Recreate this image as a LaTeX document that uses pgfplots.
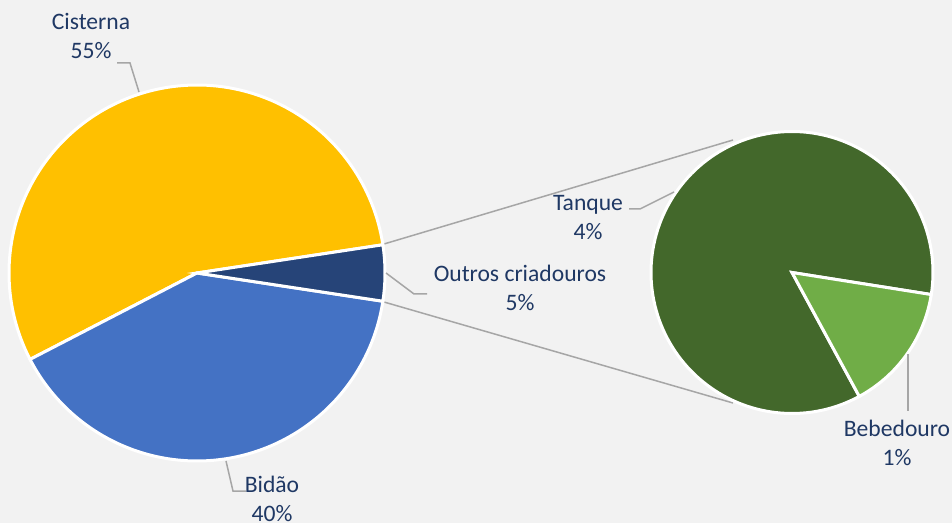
\documentclass[border=0pt]{standalone}
\usepackage{pgfplots}
\pgfplotsset{compat=1.18}
\usepackage{fontspec}
\setmainfont{Carlito}
\definecolor{bg}{HTML}{F2F2F2}
\definecolor{cCis}{HTML}{FFC000}
\definecolor{cBid}{HTML}{4472C4}
\definecolor{cOut}{HTML}{264478}
\definecolor{cTan}{HTML}{43682B}
\definecolor{cBeb}{HTML}{70AD47}
\definecolor{txt}{HTML}{1F3864}
\definecolor{lead}{HTML}{A6A6A6}
% data (percent)
\def\vCis{55.2}
\def\vBid{40.0}
\def\vOut{4.8}
\def\vTan{4.1}
\def\vBeb{0.7}
\begin{document}
\begin{tikzpicture}
\pgfmathsetmacro\aOs{-1.8*\vOut}
\pgfmathsetmacro\aOe{1.8*\vOut}
\pgfmathsetmacro\aCe{\aOe+3.6*\vCis}
\pgfmathsetmacro\aBe{\aCe+3.6*\vBid}
\pgfmathsetmacro\rS{-9}
\pgfmathsetmacro\bBs{\rS-360*\vBeb/\vOut}
\pgfmathsetmacro\bTe{\rS+360*\vTan/\vOut}
\begin{axis}[scale only axis, width=476pt, height=261.5pt,
  xmin=0, xmax=952, ymin=0, ymax=523, y dir=reverse,
  hide axis, clip=false]
\fill[bg] (axis cs:0,0) rectangle (axis cs:952,523);
% connector lines
\addplot[lead, line width=0.75pt] coordinates {(384,244) (733,140)};
\addplot[lead, line width=0.75pt] coordinates {(384,302) (733,403)};
% left pie
\addplot[fill=cCis, draw=white, line width=1.5pt, domain=\aOe:\aCe, samples=120, variable=\t]
  ({197+188*cos(\t)},{273-188*sin(\t)}) -- (axis cs:197,273) -- cycle;
\addplot[fill=cBid, draw=white, line width=1.5pt, domain=\aCe:\aBe, samples=120, variable=\t]
  ({197+188*cos(\t)},{273-188*sin(\t)}) -- (axis cs:197,273) -- cycle;
\addplot[fill=cOut, draw=white, line width=1.5pt, domain=\aOs:\aOe, samples=30, variable=\t]
  ({197+188*cos(\t)},{273-188*sin(\t)}) -- (axis cs:197,273) -- cycle;
% right pie
\addplot[fill=cTan, draw=white, line width=1.5pt, domain=\rS:\bTe, samples=150, variable=\t]
  ({792+141*cos(\t)},{272.5-141*sin(\t)}) -- (axis cs:792,272.5) -- cycle;
\addplot[fill=cBeb, draw=white, line width=1.5pt, domain=\bBs:\rS, samples=40, variable=\t]
  ({792+141*cos(\t)},{272.5-141*sin(\t)}) -- (axis cs:792,272.5) -- cycle;
% leader lines
\addplot[lead, line width=0.75pt] coordinates {(139,92) (130,63) (117,63)};
\addplot[lead, line width=0.75pt] coordinates {(226,461) (233,491) (246,491)};
\addplot[lead, line width=0.75pt] coordinates {(386,273) (414,294) (427,294)};
\addplot[lead, line width=0.75pt] coordinates {(674,192) (640,209) (629,209)};
\addplot[lead, line width=0.75pt] coordinates {(908,354) (908,411)};
% labels
\begin{scope}[every node/.style={font=\fontsize{11.8}{14.5}\selectfont, text=txt, align=center, inner sep=0pt}]
\node at (axis cs:91,36) {Cisterna\\55\%};
\node at (axis cs:272,499) {Bidão\\40\%};
\node at (axis cs:520,288) {Outros criadouros\\5\%};
\node at (axis cs:588,218) {Tanque\\4\%};
\node at (axis cs:897,443) {Bebedouro\\1\%};
\end{scope}
\end{axis}
\end{tikzpicture}
\end{document}
